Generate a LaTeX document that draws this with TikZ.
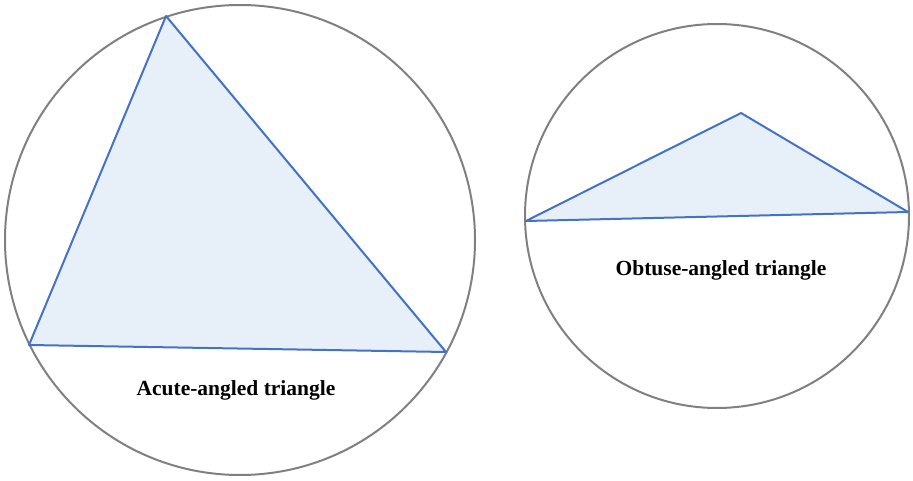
\documentclass[tikz,border=0pt]{standalone}
\usepackage{fontspec}
\setmainfont{Liberation Serif}
\definecolor{circ}{RGB}{128,128,128}
\definecolor{tri}{RGB}{68,114,196}
\definecolor{trifill}{RGB}{231,239,249}
\begin{document}
\begin{tikzpicture}[x=1pt,y=-1pt,
  circlestyle/.style={draw=circ,line width=2pt},
  tristyle/.style={draw=tri,fill=trifill,line width=2pt,line join=round},
  lbl/.style={font=\fontsize{21.5}{24}\selectfont\bfseries}]
\useasboundingbox (0,0) rectangle (913,481);
\draw[circlestyle] (240,240) circle (235);
\coordinate (a1) at (166,16);
\coordinate (a2) at (29,345);
\coordinate (a3) at (446,352);
\draw[tristyle] (a1) -- (a2) -- (a3) -- cycle;
\node[lbl] (la) at (236,390) {Acute-angled triangle};
\draw[circlestyle] (717,216) circle (192);
\coordinate (b1) at (526,221);
\coordinate (b2) at (741,113);
\coordinate (b3) at (908,212);
\draw[tristyle] (b1) -- (b2) -- (b3) -- cycle;
\node[lbl] (lb) at (721,270) {Obtuse-angled triangle};
\end{tikzpicture}
\end{document}
